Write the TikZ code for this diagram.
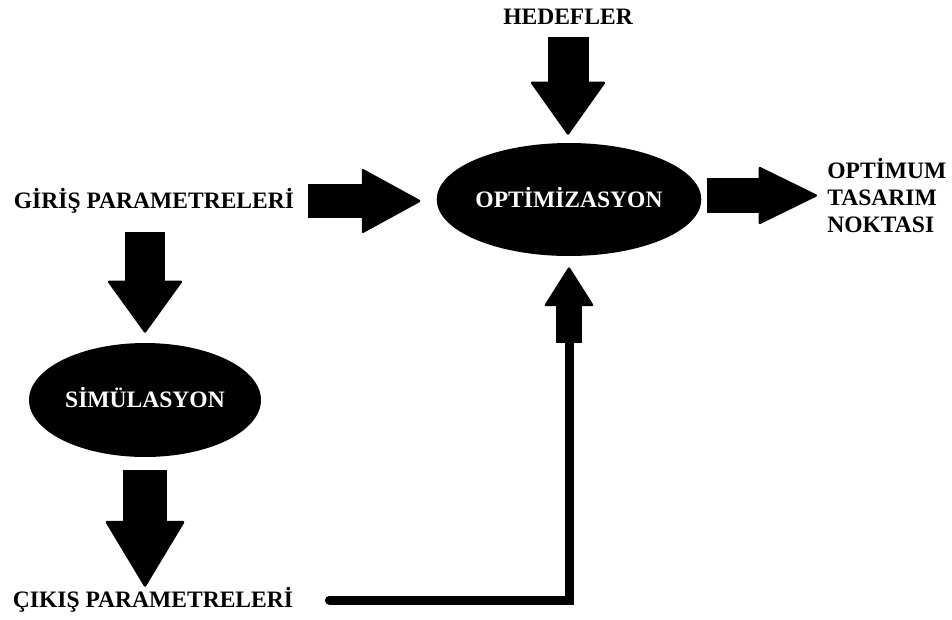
\documentclass[tikz,border=0pt]{standalone}
\usepackage{fontspec}
\setmainfont{Liberation Serif}
\usetikzlibrary{arrows.meta,positioning,shapes.geometric,calc}

\begin{document}
\begin{tikzpicture}[
    x=0.02cm, y=-0.02cm,
    font=\fontsize{13.4}{15.6}\selectfont\bfseries,
    lbl/.style={inner sep=0pt, text height=9pt, text depth=0pt},
    proc/.style={ellipse, fill=black, text=white, inner sep=0pt, text height=9pt, text depth=0pt},
    fat/.style n args={3}{line width=#1, -{Triangle[length=#2, width=#3, line width=0.05cm, round]}}
]
\useasboundingbox (0,0) rectangle (952,619);
\node[lbl] (hedef) at (568,17) {HEDEFLER};
\node[proc, minimum width=5.16cm, minimum height=2.26cm] (opt) at (569,199.5) {OPTİMİZASYON};
\node[lbl] (giris) at (154,201) {GİRİŞ PARAMETRELERİ};
\node[proc, minimum width=4.64cm, minimum height=2.28cm] (sim) at (145,400) {SİMÜLASYON};
\node[lbl] (cikis) at (153,600) {ÇIKIŞ PARAMETRELERİ};
\node[inner sep=0pt, align=left, anchor=west] (optimum) at (827,195.5) {OPTİMUM\\TASARIM\\NOKTASI};
\draw[fat={0.82cm}{1.08cm}{1.52cm}, shorten <=0.24cm, shorten >=0.16cm] (hedef.south) -- (hedef.south |- opt.north);
\draw[fat={0.68cm}{1.2cm}{1.3cm}, shorten <=0.28cm, shorten >=0.32cm] (giris.east) -- (giris.east -| opt.west);
\draw[fat={0.7cm}{1.2cm}{1.16cm}, shorten <=0.1cm, shorten >=0.2cm] (opt.east |- optimum.west) -- (optimum.west);
\draw[fat={0.82cm}{1.06cm}{1.52cm}, shorten <=0.46cm, shorten >=0.2cm] (giris.south -| sim.north) -- (sim.north);
\draw[fat={0.88cm}{1.34cm}{1.6cm}, shorten <=0.26cm, shorten >=0.1cm] (sim.south) -- (sim.south |- cikis.north);
\coordinate (fb) at ($(opt.south)+(0,87)$);
\draw[line width=0.18cm, line cap=round, shorten <=0.72cm] (cikis.east) -| (fb);
\draw[fat={0.52cm}{0.8cm}{1cm}, shorten >=0.22cm] (fb) -- (opt.south);
\end{tikzpicture}
\end{document}
